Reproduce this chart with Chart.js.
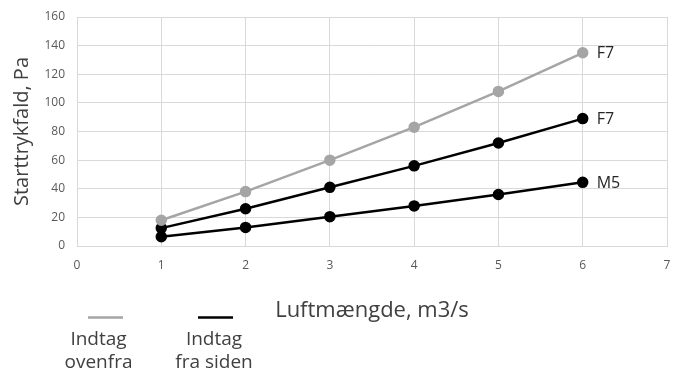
<!DOCTYPE html>
<html>
<head>
<meta charset="utf-8">
<script src="https://cdn.jsdelivr.net/npm/chart.js@4/dist/chart.umd.min.js"></script>
<style>
  html, body { margin: 0; padding: 0; background: #fff; }
  #wrap { width: 674px; height: 374px; }
</style>
</head>
<body>
<div id="wrap"><canvas id="myChart" width="674" height="374"></canvas></div>
<script>
// Data
const luftmaengde = [1, 2, 3, 4, 5, 6];
const ovenfraF7 = [18, 38, 60, 83, 108, 135];
const sidenF7 = [12.5, 26, 41, 56, 72, 89];
const sidenM5 = [6.5, 13, 20.5, 28, 36, 44.5];
const endeLabels = ["F7", "F7", "M5"];

const legendItems = [
  { color: "#a5a5a5", lines: ["Indtag", "ovenfra"] },
  { color: "#000000", lines: ["Indtag", "fra siden"] }
];

const fontFam = "'Open Sans', 'Noto Sans', sans-serif";
const textColor = "#404040";

function toPoints(values){
  return luftmaengde.map((x, i) => ({ x: x, y: values[i] }));
}

function serie(label, values, color){
  return {
    label: label,
    data: toPoints(values),
    borderColor: color,
    backgroundColor: color,
    borderWidth: 2.5,
    pointRadius: 4.5,
    pointHoverRadius: 4.5,
    tension: 0
  };
}

// labels at the end of each line + the custom legend under the chart
const extraText = {
  id: "extraText",
  afterDatasetsDraw(chart){
    const ctx = chart.ctx;
    ctx.save();
    ctx.font = "16px " + fontFam;
    ctx.fillStyle = "#262626";
    ctx.textBaseline = "middle";
    ctx.textAlign = "left";
    chart.data.datasets.forEach((ds, i) => {
      const meta = chart.getDatasetMeta(i);
      const last = meta.data[meta.data.length - 1];
      ctx.fillText(endeLabels[i], last.x + 14, last.y + 1);
    });

    const lineX = [105.5, 215.5];
    const textX = [98.5, 214];
    legendItems.forEach((item, i) => {
      ctx.strokeStyle = item.color;
      ctx.lineWidth = 2.5;
      ctx.beginPath();
      ctx.moveTo(lineX[i] - 17.5, 317.5);
      ctx.lineTo(lineX[i] + 17.5, 317.5);
      ctx.stroke();
      ctx.font = "19px " + fontFam;
      ctx.textAlign = "center";
      ctx.fillStyle = textColor;
      ctx.fillText(item.lines[0], textX[i], 340);
      ctx.fillText(item.lines[1], textX[i], 363);
    });
    ctx.restore();
  }
};

const config = {
  type: "line",
  data: {
    datasets: [
      serie("Indtag ovenfra F7", ovenfraF7, "#a5a5a5"),
      serie("Indtag fra siden F7", sidenF7, "#000000"),
      serie("Indtag fra siden M5", sidenM5, "#000000")
    ]
  },
  options: {
    responsive: false,
    animation: false,
    layout: { padding: { left: 0, right: 2, top: 17, bottom: 50 } },
    plugins: {
      legend: { display: false },
      tooltip: { enabled: false }
    },
    scales: {
      x: {
        type: "linear",
        min: 0,
        max: 7,
        afterFit: s => { s.height = 78; s.paddingRight = 0; s.paddingLeft = 0; },
        ticks: { stepSize: 1, color: "#595959", font: { family: fontFam, size: 12 }, padding: 12 },
        grid: { color: "#d9d9d9", drawTicks: false },
        border: { color: "#d9d9d9" },
        title: {
          display: true,
          text: "Luftmængde, m3/s",
          color: textColor,
          font: { family: fontFam, size: 22 },
          padding: { top: 0, bottom: 0 }
        }
      },
      y: {
        min: 0,
        max: 160,
        afterFit: s => { s.width = 77; s.paddingTop = 0; s.paddingBottom = 0; },
        ticks: { stepSize: 20, color: "#595959", font: { family: fontFam, size: 12 }, padding: 12 },
        grid: { color: "#d9d9d9", drawTicks: false },
        border: { color: "#d9d9d9" },
        title: {
          display: true,
          text: "Starttrykfald, Pa",
          color: textColor,
          font: { family: fontFam, size: 20 },
          padding: { top: 10, bottom: 0 }
        }
      }
    }
  },
  plugins: [extraText]
};

const myChart = new Chart(document.querySelector("#myChart"), config);
</script>
</body>
</html>
